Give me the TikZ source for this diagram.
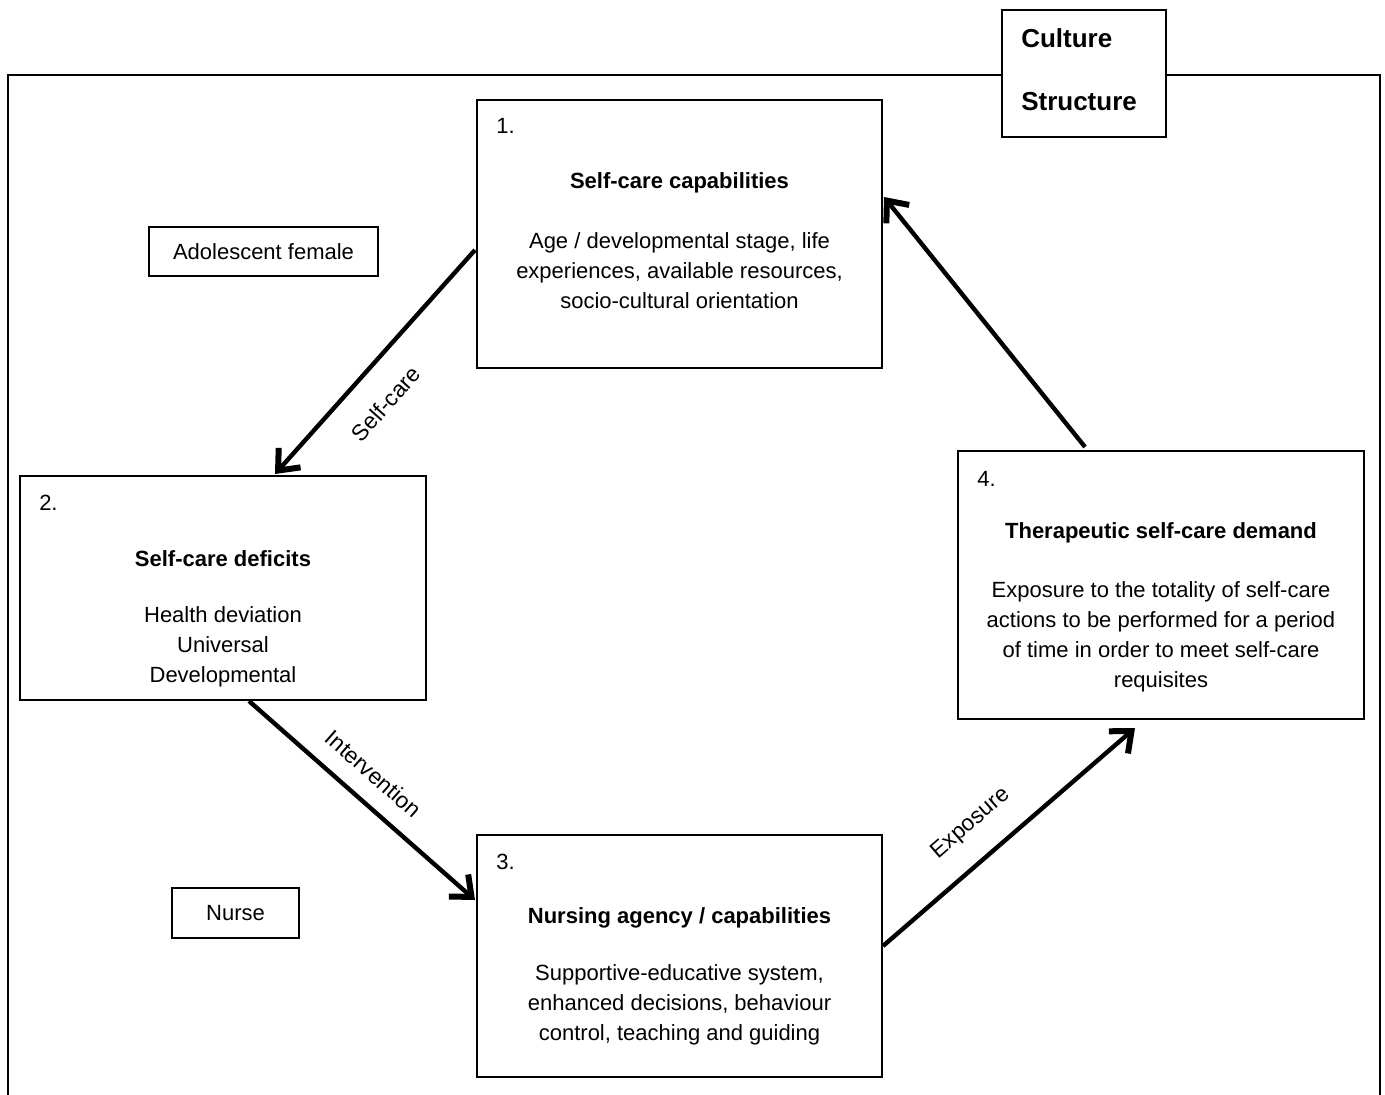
\documentclass[tikz,border=0pt]{standalone}
\usepackage{fontspec}
\setmainfont{Liberation Sans}
\usetikzlibrary{arrows.meta,calc}
\begin{document}
\begin{tikzpicture}[x=0.75pt,y=-0.75pt,
  bx/.style 2 args={draw,line width=1.5pt,minimum width=#1*0.75pt,minimum height=#2*0.75pt,inner sep=0pt,outer sep=0pt},
  txt/.style={font=\fontsize{16.5pt}{22.5pt}\selectfont,align=center,inner sep=0pt},
  ttl/.style={font=\fontsize{16.5pt}{22.5pt}\selectfont\bfseries,inner sep=0pt},
  num/.style={font=\fontsize{16.5pt}{22.5pt}\selectfont,inner sep=0pt,anchor=base west},
  big/.style={font=\fontsize{19.5pt}{24pt}\selectfont\bfseries,inner sep=0pt,anchor=west},
  flow/.style={line width=3.3pt,-{Straight Barb[length=13pt,width=22pt,line width=4.5pt]}},
  lbl/.style={font=\fontsize{17pt}{20pt}\selectfont,sloped,inner sep=0pt}]
\useasboundingbox (0,0) rectangle (1385,1095);
\clip (0,0) rectangle (1385,1095);

% culture box and outer frame
\node[bx={164}{127}] (cul) at (1084,73.5) {};
\node[big] (culture) at (1021,38) {Culture};
\node[big] (structure) at (1021,102) {Structure};
\coordinate (ftl) at (8,75);
\coordinate (fbl) at (8,1120);
\coordinate (ftr) at (1380,75);
\coordinate (fbr) at (1380,1120);
\draw[line width=1.8pt] (cul.west |- ftl) -- (ftl) -- (fbl);
\draw[line width=1.8pt] (cul.east |- ftr) -- (ftr) -- (fbr);

% boxes
\node[bx={405}{268}] (b1) at (679.5,234) {};
\node[bx={406}{224}] (b2) at (223,588) {};
\node[bx={405}{242}] (b3) at (679.5,956) {};
\node[bx={406}{268}] (b4) at (1161,585) {};
\node[bx={229}{49},txt] (adol) at (263.5,251.5) {Adolescent female};
\node[bx={127}{50},txt] (nurse) at (235.5,913) {Nurse};

% box 1
\node[num] (n1) at (496,134) {1.};
\node[ttl] (t1) at (679.5,183) {Self-care capabilities};
\node[txt] (d1) at (679.5,271) {Age / developmental stage, life\\experiences, available resources,\\socio-cultural orientation};
% box 2
\node[num] (n2) at (39,510) {2.};
\node[ttl] (t2) at (223,559) {Self-care deficits};
\node[txt] (d2) at (223,647) {Health deviation\\Universal\\Developmental};
% box 3
\node[num] (n3) at (496,869) {3.};
\node[ttl] (t3) at (679.5,918) {Nursing agency / capabilities};
\node[txt] (d3) at (679.5,1005) {Supportive-educative system,\\enhanced decisions, behaviour\\control, teaching and guiding};
% box 4
\node[num] (n4) at (977,486) {4.};
\node[ttl] (t4) at (1161,533) {Therapeutic self-care demand};
\node[txt] (d4) at (1161,637) {Exposure to the totality of self-care\\actions to be performed for a period\\of time in order to meet self-care\\requisites};

% arrows
\draw[flow] ($(b1.west)+(-2,16)$) -- node[lbl,below=19pt,pos=0.58] {Self-care} ($(b2.north)+(52,-2)$);
\draw[flow] ($(b2.south)+(26,1)$) -- node[lbl,above=13pt,pos=0.47] {Intervention} ($(b3.west)+(-2,-56)$);
\draw[flow] ($(b3.east)+(1,-10)$) -- node[lbl,above=17pt,pos=0.44] {Exposure} ($(b4.south)+(-26,9)$);
\draw[flow] ($(b4.north)+(-76,-4)$) -- ($(b1.east)+(2,-37)$);
\end{tikzpicture}
\end{document}
